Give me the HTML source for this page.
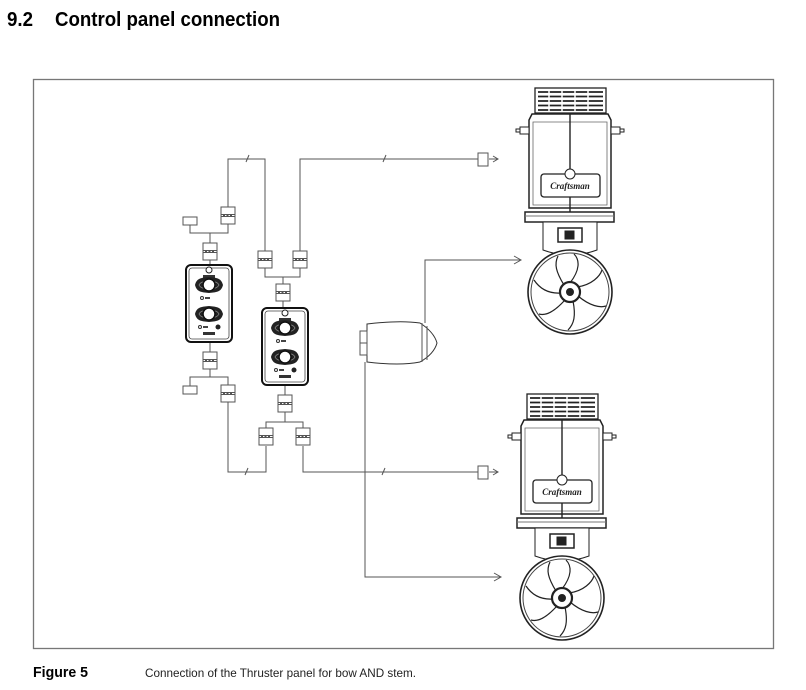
<!DOCTYPE html>
<html><head><meta charset="utf-8"><style>
html,body{margin:0;padding:0;background:#fff;}
svg{display:block;}
</style></head><body>
<svg width="806" height="690" viewBox="0 0 806 690" xmlns="http://www.w3.org/2000/svg">
<defs>
<g id="conn"><rect x="0" y="0" width="14" height="17" fill="#fff" stroke="#555" stroke-width="1"/><line x1="0" y1="7.5" x2="14" y2="7.5" stroke="#555"/><line x1="0" y1="9.5" x2="14" y2="9.5" stroke="#555"/><line x1="2" y1="8.5" x2="12" y2="8.5" stroke="#555" stroke-dasharray="2 1.5"/></g>
<g id="knob"><path d="M-14,0 C-12,-8 -6,-7 0,-8 C6,-7 12,-8 14,0 C12,8 6,7 0,8 C-6,7 -12,8 -14,0 Z" fill="#222"/><path d="M-10,0 C-8,-4 -4,-3 0,-4 C4,-3 8,-4 10,0 C8,4 4,3 0,4 C-4,3 -8,4 -10,0Z" fill="none" stroke="#888" stroke-width="0.8"/><circle r="6" fill="#fff" stroke="#111" stroke-width="1.5"/></g>
<g id="panel">
<rect x="0" y="0" width="46" height="77" rx="5" fill="#fff" stroke="#111" stroke-width="2"/>
<rect x="3" y="3" width="40" height="71" rx="3" fill="none" stroke="#444" stroke-width="0.8"/>
<circle cx="23" cy="5" r="3" fill="#fff" stroke="#222"/>
<rect x="17" y="10" width="12" height="3" fill="#333"/>
<use href="#knob" x="23" y="20"/>
<circle cx="16" cy="33" r="1.5" fill="none" stroke="#333"/><rect x="19" y="32" width="5" height="2" fill="#444"/>
<use href="#knob" x="23" y="49"/>
<circle cx="14" cy="62" r="1.5" fill="none" stroke="#333"/><rect x="17" y="61" width="5" height="2" fill="#444"/><circle cx="32" cy="62" r="2.5" fill="#222"/>
<rect x="17" y="67" width="12" height="3" fill="#333"/>
</g>
<g id="thr" fill="#fff" stroke="#222" stroke-width="1">
<rect x="-35" y="8" width="71" height="25" stroke-width="1.3"/>
<g stroke="#222" stroke-width="1.8">
<line x1="-32" y1="12" x2="33" y2="12"/><line x1="-32" y1="16.5" x2="33" y2="16.5"/><line x1="-32" y1="21" x2="33" y2="21"/><line x1="-32" y1="25.5" x2="33" y2="25.5"/><line x1="-32" y1="30" x2="33" y2="30"/>
</g>
<g stroke="#fff" stroke-width="1.5"><line x1="-21" y1="10" x2="-21" y2="31"/><line x1="-8" y1="10" x2="-8" y2="31"/><line x1="5" y1="10" x2="5" y2="31"/><line x1="18" y1="10" x2="18" y2="31"/></g>
<path d="M-38,34 L38,34 L41,40 L41,128 L-41,128 L-41,40 Z" stroke-width="1.5"/>
<path d="M-37,42 L37,42 L37,125 L-37,125Z" fill="none" stroke="#666" stroke-width="0.8"/>
<rect x="-50" y="47" width="9" height="7"/><rect x="-54" y="49" width="4" height="3"/>
<rect x="41" y="47" width="9" height="7"/><rect x="50" y="49" width="4" height="3"/>
<line x1="0" y1="33" x2="0" y2="132" stroke-width="1.4"/>
<rect x="-29" y="94" width="59" height="23" rx="3" stroke-width="1.3"/>
<text x="0" y="109" font-family="Liberation Serif,serif" font-style="italic" font-weight="bold" font-size="9" text-anchor="middle" fill="#222" stroke="none">Craftsman</text>
<circle cx="0" cy="94" r="5"/>
<rect x="-45" y="132" width="89" height="10" stroke-width="1.5"/>
<line x1="-45" y1="136" x2="44" y2="136" stroke="#777"/>
<path d="M-27,142 L27,142 L27,170 Q0,180 -27,170 Z"/>
<rect x="-12" y="148" width="24" height="14" stroke-width="1.5"/><rect x="-5" y="151" width="9" height="8" fill="#222"/>
<circle cx="0" cy="212" r="42" stroke-width="1.6"/>
<circle cx="0" cy="212" r="39" fill="none" stroke="#444"/>
<g fill="none" stroke="#222" stroke-width="1.2">
<path d="M0,203 C10,190 10,180 4,174"/><path d="M7,207 C22,205 30,196 32,190"/><path d="M8,216 C20,226 30,228 36,226"/><path d="M3,221 C6,236 4,244 -2,250"/><path d="M-5,220 C-16,232 -24,236 -31,234"/><path d="M-9,213 C-24,214 -32,206 -36,200"/><path d="M-6,205 C-14,192 -16,184 -12,176"/>
</g>
<circle cx="0" cy="212" r="10" stroke-width="2.2"/>
<circle cx="0" cy="212" r="3.5" fill="#222"/>
</g>
</defs>

<text x="7" y="26" font-family="Liberation Sans,sans-serif" font-weight="bold" font-size="20" textLength="26" lengthAdjust="spacingAndGlyphs">9.2</text>
<text x="55" y="26" font-family="Liberation Sans,sans-serif" font-weight="bold" font-size="20" textLength="225" lengthAdjust="spacingAndGlyphs">Control panel connection</text>

<rect x="33.5" y="79.5" width="740" height="569" fill="none" stroke="#777" stroke-width="1.3"/>

<g fill="none" stroke="#555" stroke-width="1">
<polyline points="190,225 190,233 228,233 228,224"/>
<line x1="210" y1="233" x2="210" y2="243"/>
<polyline points="228,207 228,159 265,159 265,251"/>
<polyline points="300,251 300,159 478,159"/>
<polyline points="265,268 265,277 300,277 300,268"/>
<line x1="283" y1="277" x2="283" y2="284"/>
<line x1="210" y1="259" x2="210" y2="266"/>
<line x1="283" y1="301" x2="283" y2="309"/>
<line x1="210" y1="342" x2="210" y2="352"/>
<line x1="210" y1="369" x2="210" y2="377"/>
<polyline points="190,386 190,377 228,377 228,385"/>
<polyline points="228,402 228,472 266,472 266,446"/>
<line x1="285" y1="385" x2="285" y2="395"/>
<line x1="285" y1="412" x2="285" y2="422"/>
<polyline points="266,428 266,422 303,422 303,428"/>
<polyline points="303,446 303,472 478,472"/>
<polyline points="425,323 425,260 520,260"/>
<polyline points="365,362 365,577 500,577"/>
<polyline points="514,256 521,260 514,264"/>
<polyline points="494,573 501,577 494,581"/>
<line x1="489" y1="159" x2="498" y2="159"/><polyline points="493,156 498,159 493,162"/>
<line x1="489" y1="472" x2="498" y2="472"/><polyline points="493,469 498,472 493,475"/>
<line x1="246" y1="162" x2="249" y2="155"/><line x1="383" y1="162" x2="386" y2="155"/>
<line x1="245" y1="475" x2="248" y2="468"/><line x1="382" y1="475" x2="385" y2="468"/>
</g>
<g fill="#fff" stroke="#555">
<rect x="183" y="217" width="14" height="8"/>
<rect x="183" y="386" width="14" height="8"/>
<rect x="478" y="153" width="10" height="13"/>
<rect x="478" y="466" width="10" height="13"/>
</g>
<use href="#conn" x="221" y="207"/>
<use href="#conn" x="203" y="243"/>
<use href="#conn" x="258" y="251"/>
<use href="#conn" x="293" y="251"/>
<use href="#conn" x="276" y="284"/>
<use href="#conn" x="203" y="352"/>
<use href="#conn" x="221" y="385"/>
<use href="#conn" x="278" y="395"/>
<use href="#conn" x="259" y="428"/>
<use href="#conn" x="296" y="428"/>
<use href="#panel" x="186" y="265"/>
<use href="#panel" x="262" y="308"/>

<path d="M367,324 Q400,320 420,323 Q434,332 437,343 Q434,354 420,362 Q400,366 367,362 Z" fill="#fff" stroke="#333"/>
<line x1="422" y1="323" x2="422" y2="362" stroke="#555"/><line x1="427" y1="326" x2="427" y2="360" stroke="#555"/>
<rect x="360" y="331" width="7" height="24" fill="#fff" stroke="#555"/>
<line x1="360" y1="343" x2="367" y2="343" stroke="#555"/>

<use href="#thr" transform="translate(570,80)"/>
<use href="#thr" transform="translate(562,386)"/>

<text x="33" y="677" font-family="Liberation Sans,sans-serif" font-weight="bold" font-size="15" textLength="55" lengthAdjust="spacingAndGlyphs">Figure 5</text>
<text x="145" y="677" font-family="Liberation Sans,sans-serif" font-size="12" textLength="271" lengthAdjust="spacingAndGlyphs" fill="#222">Connection of the Thruster panel for bow AND stem.</text>
</svg>
</body></html>
